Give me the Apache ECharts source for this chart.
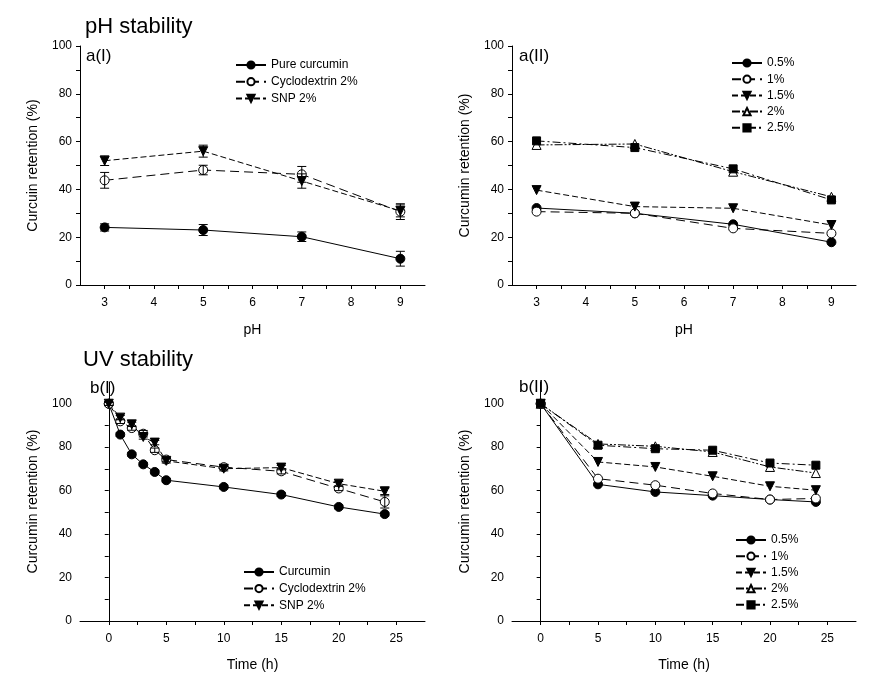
<!DOCTYPE html>
<html>
<head>
<meta charset="utf-8">
<script src="https://cdn.jsdelivr.net/npm/echarts@6/dist/echarts.min.js"></script>
<style>
html,body{margin:0;padding:0;background:#fff;}
#chart{width:884px;height:673px;}
</style>
</head>
<body>
<div id="chart"></div>
<script>
// ---------- data ----------
const phX = [3, 5, 7, 9];
const phTicks = [3, 3.5, 4, 4.5, 5, 5.5, 6, 6.5, 7, 7.5, 8, 8.5, 9];
const phLabels = [3, 4, 5, 6, 7, 8, 9];

const aI_pure = [24.1, 23.0, 20.2, 11.0];
const aI_pure_err = [1.5, 2.3, 2.0, 3.1];
const aI_cyclo = [43.8, 48.1, 46.3, 30.7];
const aI_cyclo_err = [3.3, 2.0, 3.3, 3.3];
const aI_snp = [52.0, 56.0, 43.5, 31.0];
const aI_snp_err = [2.0, 2.5, 3.0, 2.5];

const aII_05 = [32.2, 30.0, 25.4, 17.9];
const aII_1 = [30.7, 30.0, 23.7, 21.6];
const aII_15 = [39.7, 32.8, 32.1, 25.1];
const aII_2 = [58.6, 59.0, 47.4, 36.9];
const aII_25 = [60.3, 57.5, 48.6, 35.6];

const bI_time = [0, 1, 2, 3, 4, 5, 10, 15, 20, 24];
const bI_cur = [100, 85.8, 76.7, 72.1, 68.6, 64.8, 61.7, 58.2, 52.5, 49.2];
const bI_cur_err = [0.8, 0.8, 0.8, 0.8, 0.8, 0.8, 0.8, 0.8, 0.8, 0.8];
const bI_cyclo = [100, 91.9, 88.8, 86.2, 78.6, 74.3, 70.8, 68.9, 61.0, 54.8];
const bI_cyclo_err = [0.8, 1.0, 1.0, 1.5, 1.0, 1.0, 1.0, 1.2, 1.0, 2.8];
const bI_snp = [100, 93.6, 90.5, 84.7, 82.1, 73.7, 70.1, 70.6, 63.2, 59.7];
const bI_snp_err = [0.8, 1.0, 1.0, 1.0, 1.0, 1.0, 1.0, 1.0, 1.0, 1.5];

const bII_time = [0, 5, 10, 15, 20, 24];
const bII_05 = [100, 62.9, 59.4, 57.7, 55.9, 54.8];
const bII_1 = [100, 65.5, 62.5, 58.7, 55.9, 56.4];
const bII_15 = [100, 73.2, 70.9, 66.6, 62.0, 60.2];
const bII_2 = [100, 81.5, 80.4, 77.8, 70.9, 68.1];
const bII_25 = [100, 80.9, 79.3, 78.6, 72.7, 71.7];

const timeTicks = [0, 2.5, 5, 7.5, 10, 12.5, 15, 17.5, 20, 22.5, 25];
const timeLabels = [0, 5, 10, 15, 20, 25];
const yTicks = [0, 10, 20, 30, 40, 50, 60, 70, 80, 90, 100];
const yLabels = [0, 20, 40, 60, 80, 100];

// ---------- helpers ----------
const FONT = '"Liberation Sans", Arial, sans-serif';
const BLACK = '#000';
const triDown = 'path://M0,0 L10,0 L5,9 Z';

function pairs(xs, ys) { return xs.map((x, i) => [x, ys[i]]); }

function xAxis(gridIndex, min, max, ticks, labels, name, nameGap) {
  return {
    type: 'value', gridIndex, min, max,
    axisLine: { lineStyle: { color: BLACK, width: 1 } },
    axisTick: { customValues: ticks, length: 4, lineStyle: { color: BLACK } },
    axisLabel: { customValues: labels, color: BLACK, fontSize: 12, fontFamily: FONT, margin: 12 },
    splitLine: { show: false },
    name, nameLocation: 'middle', nameGap,
    nameTextStyle: { color: BLACK, fontSize: 14, fontFamily: FONT }
  };
}
function yAxis(gridIndex, max, name) {
  return {
    type: 'value', gridIndex, min: 0, max,
    axisLine: { show: true, lineStyle: { color: BLACK, width: 1 } },
    axisTick: { show: true, customValues: yTicks, length: 4, lineStyle: { color: BLACK } },
    axisLabel: { customValues: yLabels, color: BLACK, fontSize: 12, fontFamily: FONT, margin: 8 },
    splitLine: { show: false },
    name, nameLocation: 'middle', nameGap: 40,
    nameTextStyle: { color: BLACK, fontSize: 14, fontFamily: FONT }
  };
}
function lineSeries(name, idx, xs, ys, symbol, filled, dash) {
  return {
    type: 'line', name, xAxisIndex: idx, yAxisIndex: idx,
    data: pairs(xs, ys),
    symbol, symbolSize: symbol === 'rect' ? 8 : 9,
    showAllSymbol: true,
    lineStyle: { color: BLACK, width: 1, type: dash },
    itemStyle: { color: filled ? BLACK : '#fff', borderColor: BLACK, borderWidth: 1, opacity: 1 },
    z: 3, animation: false
  };
}
function errSeries(idx, xs, ys, errs) {
  return {
    type: 'custom', xAxisIndex: idx, yAxisIndex: idx, silent: true, animation: false,
    data: xs.map((x, i) => [x, ys[i] - errs[i], ys[i] + errs[i]]),
    encode: { x: 0, y: [1, 2] },
    z: 4,
    renderItem: function (params, api) {
      const lo = api.coord([api.value(0), api.value(1)]);
      const hi = api.coord([api.value(0), api.value(2)]);
      const w = 4.5;
      const st = { stroke: BLACK, lineWidth: 1 };
      return {
        type: 'group', children: [
          { type: 'line', shape: { x1: lo[0], y1: lo[1], x2: hi[0], y2: hi[1] }, style: st },
          { type: 'line', shape: { x1: lo[0] - w, y1: lo[1], x2: lo[0] + w, y2: lo[1] }, style: st },
          { type: 'line', shape: { x1: hi[0] - w, y1: hi[1], x2: hi[0] + w, y2: hi[1] }, style: st }
        ]
      };
    }
  };
}
function legend(names, left, top, gap) {
  return {
    data: names, orient: 'vertical', left, top,
    itemWidth: 30, itemHeight: 9, itemGap: gap,
    textStyle: { color: BLACK, fontSize: 12, fontFamily: FONT, lineHeight: 12 },
    selectedMode: false
  };
}

const SOLID = 'solid';
const LONGDASH = [9, 5];
const MEDDASH = [6, 3];
const DASHDOTDOT = [8, 2, 2, 2, 2, 2];
const DASHDOT = [8, 3, 2, 3];

const chart = echarts.init(document.getElementById('chart'), null, { renderer: 'canvas' });

const option = {
  backgroundColor: '#fff',
  animation: false,
  textStyle: { fontFamily: FONT },
  grid: [
    { left: 80, top: 46, width: 345, height: 239 },
    { left: 512, top: 46, width: 344, height: 239 },
    { left: 80, top: 382, width: 345, height: 239 },
    { left: 512, top: 382, width: 344, height: 239 }
  ],
  xAxis: [
    xAxis(0, 2.5, 9.5, phTicks, phLabels, 'pH', 38),
    xAxis(1, 2.5, 9.5, phTicks, phLabels, 'pH', 38),
    xAxis(2, -2.5, 27.5, timeTicks, timeLabels, 'Time (h)', 37),
    xAxis(3, -2.5, 27.5, timeTicks, timeLabels, 'Time (h)', 37)
  ],
  yAxis: [
    yAxis(0, 100, 'Curcuin retention (%)'),
    yAxis(1, 100, 'Curcumin retention (%)'),
    yAxis(2, 110, 'Curcumin retention (%)'),
    yAxis(3, 110, 'Curcumin retention (%)')
  ],
  legend: [
    legend(['Pure curcumin', 'Cyclodextrin 2%', 'SNP 2%'], 230, 54, 4.7),
    legend(['0.5%', '1%', '1.5%', '2%', '2.5%'], 726, 52, 4.2),
    legend(['Curcumin', 'Cyclodextrin 2% ', 'SNP 2% '], 238, 561, 4.6),
    legend(['0.5% ', '1% ', '1.5% ', '2% ', '2.5% '], 730, 529, 4.2)
  ],
  graphic: [
    { type: 'text', left: 85, top: 16, style: { text: 'pH stability', font: '22px ' + FONT, fill: BLACK } },
    { type: 'text', left: 83, top: 349, style: { text: 'UV stability', font: '22px ' + FONT, fill: BLACK } },
    { type: 'text', left: 86, top: 48, style: { text: 'a(I)', font: '17px ' + FONT, fill: BLACK } },
    { type: 'text', left: 519, top: 48, style: { text: 'a(II)', font: '17px ' + FONT, fill: BLACK } },
    { type: 'text', left: 90, top: 380, style: { text: 'b(I)', font: '17px ' + FONT, fill: BLACK } },
    { type: 'text', left: 519, top: 379, style: { text: 'b(II)', font: '17px ' + FONT, fill: BLACK } }
  ],
  series: [
    // a(I)
    errSeries(0, phX, aI_pure, aI_pure_err),
    errSeries(0, phX, aI_cyclo, aI_cyclo_err),
    errSeries(0, phX, aI_snp, aI_snp_err),
    lineSeries('Pure curcumin', 0, phX, aI_pure, 'circle', true, SOLID),
    lineSeries('Cyclodextrin 2%', 0, phX, aI_cyclo, 'circle', false, LONGDASH),
    lineSeries('SNP 2%', 0, phX, aI_snp, triDown, true, MEDDASH),
    // a(II)
    lineSeries('0.5%', 1, phX, aII_05, 'circle', true, SOLID),
    lineSeries('1%', 1, phX, aII_1, 'circle', false, LONGDASH),
    lineSeries('1.5%', 1, phX, aII_15, triDown, true, MEDDASH),
    lineSeries('2%', 1, phX, aII_2, 'triangle', false, DASHDOTDOT),
    lineSeries('2.5%', 1, phX, aII_25, 'rect', true, DASHDOT),
    // b(I)
    errSeries(2, bI_time, bI_cur, bI_cur_err),
    errSeries(2, bI_time, bI_cyclo, bI_cyclo_err),
    errSeries(2, bI_time, bI_snp, bI_snp_err),
    lineSeries('Curcumin', 2, bI_time, bI_cur, 'circle', true, SOLID),
    lineSeries('Cyclodextrin 2% ', 2, bI_time, bI_cyclo, 'circle', false, LONGDASH),
    lineSeries('SNP 2% ', 2, bI_time, bI_snp, triDown, true, MEDDASH),
    // b(II)
    lineSeries('0.5% ', 3, bII_time, bII_05, 'circle', true, SOLID),
    lineSeries('1% ', 3, bII_time, bII_1, 'circle', false, LONGDASH),
    lineSeries('1.5% ', 3, bII_time, bII_15, triDown, true, MEDDASH),
    lineSeries('2% ', 3, bII_time, bII_2, 'triangle', false, DASHDOTDOT),
    lineSeries('2.5% ', 3, bII_time, bII_25, 'rect', true, DASHDOT)
  ]
};
chart.setOption(option);
</script>
</body>
</html>
